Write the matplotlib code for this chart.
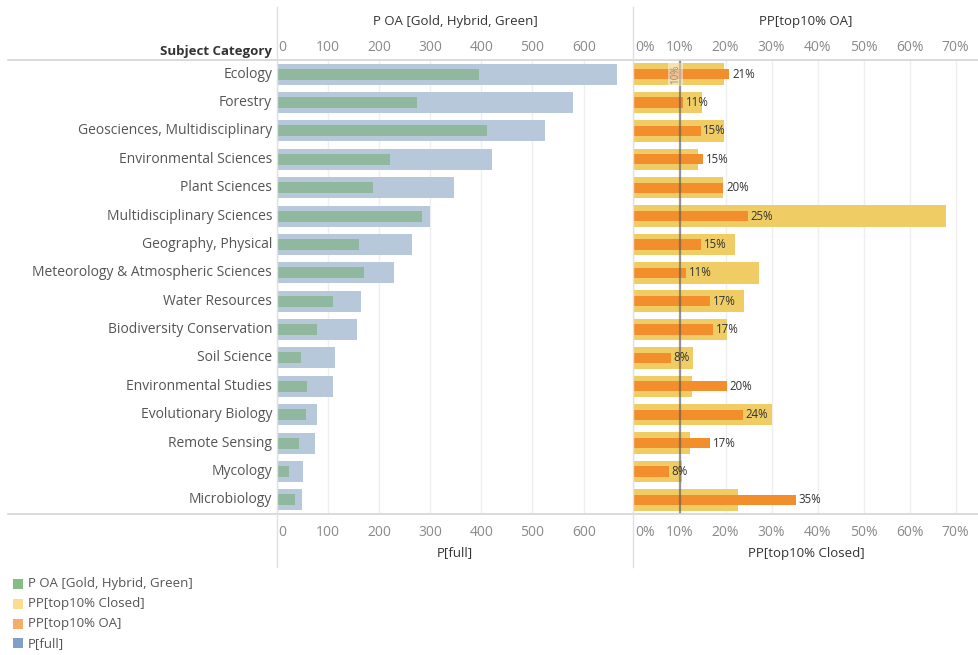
import matplotlib
matplotlib.use("Agg")
import matplotlib.pyplot as plt
from matplotlib.ticker import FuncFormatter
import matplotlib.transforms as mtransforms

categories = ["Ecology", "Forestry", "Geosciences, Multidisciplinary", "Environmental Sciences",
              "Plant Sciences", "Multidisciplinary Sciences", "Geography, Physical",
              "Meteorology & Atmospheric Sciences", "Water Resources", "Biodiversity Conservation",
              "Soil Science", "Environmental Studies", "Evolutionary Biology", "Remote Sensing",
              "Mycology", "Microbiology"]
p_full = [665, 579, 525, 421, 347, 300, 265, 230, 165, 158, 115, 111, 79, 75, 52, 50]
p_oa = [396, 275, 411, 222, 189, 285, 161, 171, 111, 79, 48, 60, 58, 44, 25, 36]
pp_closed = [0.197, 0.149, 0.197, 0.140, 0.195, 0.680, 0.221, 0.273, 0.240, 0.203,
             0.129, 0.127, 0.301, 0.123, 0.105, 0.227]
pp_oa = [0.208, 0.107, 0.146, 0.151, 0.195, 0.249, 0.147, 0.114, 0.166, 0.173,
         0.081, 0.203, 0.238, 0.166, 0.077, 0.353]
ref_value = 0.10
left_ticks = [0, 100, 200, 300, 400, 500, 600]
right_ticks = [0, 0.1, 0.2, 0.3, 0.4, 0.5, 0.6, 0.7]

FONT = "Open Sans"
plt.rcParams['font.family'] = [FONT, 'DejaVu Sans']

W, H = 979, 655
fig = plt.figure(figsize=(W / 100, H / 100), dpi=100)

def px_axes(x0, y0, x1, y1):
    return fig.add_axes([x0 / W, 1 - y1 / H, (x1 - x0) / W, (y1 - y0) / H])

top_y, bot_y = 60, 514
ax1 = px_axes(276.5, top_y, 633, bot_y)
ax2 = px_axes(633.5, top_y, 979, bot_y)

n = len(categories)
ys = list(range(n))

c_blue = "#b7c8db"
c_green = "#90b89e"
c_yellow = "#f0cd64"
c_orange = "#f28e2b"
grid_c = "#efefef"
label_c = "#555555"
tick_c = "#8a8a8a"

ax1.barh(ys, p_full, height=0.74, color=c_blue, zorder=2)
ax1.barh(ys, p_oa, height=0.39, color=c_green, zorder=3)
ax1.set_xlim(0, (633 - 276.5) / 0.512)

ax2.barh(ys, pp_closed, height=0.76, color=c_yellow, zorder=2)
ax2.barh(ys, pp_oa, height=0.36, color=c_orange, zorder=3)
ax2.set_xlim(0, (979 - 633.7) / 460.0)
ax2.axvline(ref_value, color="#555555", alpha=0.6, lw=1.6, zorder=4)
ax2.text(ref_value - 0.009, 0, "10%", rotation=90, ha="center", va="center", fontsize=7,
         color="#8f8f8f", zorder=5,
         bbox=dict(boxstyle="square,pad=0.2", fc="#ffffff", ec="none", alpha=0.45))
for y, v in zip(ys, pp_oa):
    ax2.text(v + 0.006, y, f"{round(v * 100):.0f}%", va="center", ha="left",
             fontsize=8.3, color="#333333", zorder=6)

for ax, ticks in ((ax1, left_ticks), (ax2, right_ticks)):
    ax.set_ylim(n - 0.5, -0.5)
    ax.set_yticks([])
    ax.set_xticks(ticks)
    ax.grid(axis="x", color=grid_c, lw=1, zorder=0)
    ax.set_axisbelow(True)
    for s in ax.spines.values():
        s.set_visible(False)
    ax.tick_params(axis="x", length=0, top=False, bottom=False, labeltop=True,
                   labelbottom=True, labelsize=10, colors=tick_c, pad=8)

ax1.xaxis.set_major_formatter(FuncFormatter(lambda v, p: f"{v:.0f}"))
ax2.xaxis.set_major_formatter(FuncFormatter(lambda v, p: f"{v * 100:.0f}%"))
fig.canvas.draw()

for ax in (ax1, ax2):
    down = mtransforms.ScaledTranslation(0, -6 / 100, fig.dpi_scale_trans)
    for i, tk in enumerate(ax.xaxis.get_major_ticks()):
        tk.label2.set_transform(tk.label2.get_transform() + down)
    tk = ax.xaxis.get_major_ticks()[0]
    tk.label1.set_horizontalalignment("left")
    tk.label2.set_horizontalalignment("left")
    off = mtransforms.ScaledTranslation(2 / 100, 0, fig.dpi_scale_trans)
    tk.label1.set_transform(tk.label1.get_transform() + off)
    tk.label2.set_transform(tk.label2.get_transform() + off)

# category labels
for y, c in zip(ys, categories):
    ax1.text(-0.012, y, c, transform=ax1.get_yaxis_transform(), ha="right", va="center",
             fontsize=10, color=label_c)

def fx(x):
    return x / W
def fy(y):
    return 1 - y / H

# frame lines
line_c = "#d4d4d4"
fig.add_artist(plt.Line2D([fx(8), fx(979)], [fy(60), fy(60)], color=line_c, lw=1.2))
fig.add_artist(plt.Line2D([fx(8), fx(979)], [fy(514), fy(514)], color=line_c, lw=1.2))
fig.add_artist(plt.Line2D([fx(277), fx(277)], [fy(7), fy(567)], color="#e0e0e0", lw=1))
fig.add_artist(plt.Line2D([fx(633), fx(633)], [fy(7), fy(567)], color="#e0e0e0", lw=1))

# headers
hdr_c = "#333333"
fig.text(fx(455), fy(21), "P OA [Gold, Hybrid, Green]", ha="center", va="center", fontsize=9.5, color=hdr_c)
fig.text(fx(806), fy(21), "PP[top10% OA]", ha="center", va="center", fontsize=9.5, color=hdr_c)
fig.text(fx(455), fy(553), "P[full]", ha="center", va="center", fontsize=9.5, color=hdr_c)
fig.text(fx(806), fy(553), "PP[top10% Closed]", ha="center", va="center", fontsize=9.5, color=hdr_c)
fig.text(fx(272), fy(51), "Subject Category", ha="right", va="center", fontsize=9.5,
         color=hdr_c, fontweight="bold")

# legend
leg_items = [("P OA [Gold, Hybrid, Green]", "#86bc86"),
             ("PP[top10% Closed]", "#f9dc91"),
             ("PP[top10% OA]", "#f6ad68"),
             ("P[full]", "#7f9fc5")]
for i, (lab, col) in enumerate(leg_items):
    yc = 584 + i * 19.8
    fig.add_artist(plt.Rectangle((fx(13), fy(yc + 5)), 10 / W, 10 / H, color=col, lw=0))
    fig.text(fx(28), fy(yc), lab, ha="left", va="center", fontsize=9.5, color=label_c)

fig.savefig("out.png", dpi=100)
